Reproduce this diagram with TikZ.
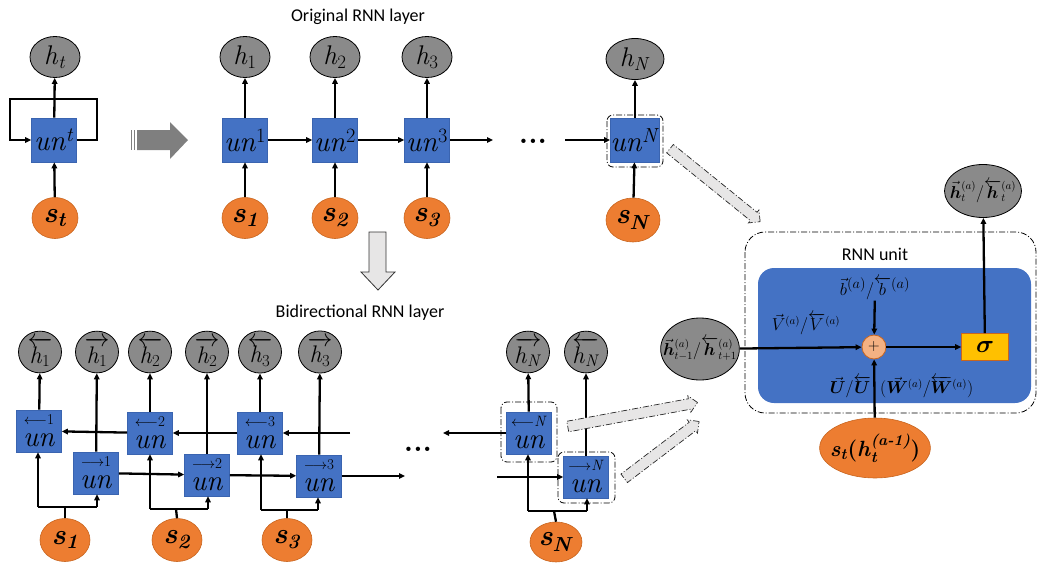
\documentclass[tikz,border=0pt]{standalone}
\usepackage{amsmath,bm}
\usepackage{fontspec}
\newfontfamily\labelsans{Carlito}
\usetikzlibrary{arrows.meta,shapes.geometric,shapes.arrows}

\definecolor{unitblue}{HTML}{4472C4}
\definecolor{unitedge}{HTML}{3A64B0}
\definecolor{inorange}{HTML}{ED7D31}
\definecolor{inedge}{HTML}{C8651F}
\definecolor{outgray}{HTML}{8A8A8A}
\definecolor{sumpink}{HTML}{F4B183}
\definecolor{sigyellow}{HTML}{FFC000}
\definecolor{paleg}{HTML}{E7E6E6}
\definecolor{bigarrow}{HTML}{7F7F7F}

\newcommand\unfont{\fontsize{29}{30}\selectfont}
\newcommand\hfont{\fontsize{27}{28}\selectfont}
\newcommand\bhfont{\fontsize{24}{25}\selectfont}
\newcommand\sfont{\fontsize{29}{30}\selectfont}
\newcommand\tagfont{\fontsize{15}{15}\selectfont}
\newcommand\titlefont{\labelsans\fontsize{18}{20}\selectfont}
\newcommand\sv[1]{\textbf{\textit{s}}\textsubscript{\textbf{\textit{#1}}}}
\newcommand\lefttag[1]{{\tagfont$\longleftarrow$#1}\\[-8pt]\textit{un}}
\newcommand\righttag[1]{{\tagfont$\longrightarrow$#1}\\[-8pt]\textit{un}}

\tikzset{
  ubox/.style={draw=unitedge, fill=unitblue, line width=0.6pt, minimum width=45pt,
    minimum height=44pt, inner sep=0pt, font=\unfont},
  bbox/.style={ubox, minimum width=45pt, minimum height=42pt, align=center},
  outnode/.style={ellipse, draw=black, fill=outgray, line width=0.8pt,
    minimum width=50pt, minimum height=41pt, inner sep=0pt, font=\hfont},
  boutnode/.style={outnode, minimum width=43pt, minimum height=40pt, font=\bhfont},
  innode/.style={ellipse, draw=inedge, fill=inorange, line width=0.6pt,
    minimum width=46pt, minimum height=41pt, inner sep=0pt, font=\sfont},
  conn/.style={line width=2.3pt, -{Triangle[length=6pt,width=5.5pt]}},
  wire/.style={line width=2.3pt},
  dashframe/.style={draw=black, line width=0.8pt, rounded corners=6pt,
    dash pattern=on 6pt off 2pt on 1pt off 2pt},
  hollowarrow/.style={single arrow, draw=black!85, fill=paleg, line width=0.7pt,
    dash pattern=on 6pt off 2pt on 1pt off 2pt, inner sep=5pt,
    single arrow head extend=3pt, single arrow tip angle=90, minimum width=0pt},
  dots/.style={font=\bfseries\fontsize{30}{30}\selectfont, inner sep=0pt},
  mathlab/.style={inner sep=0pt, font=\fontsize{16}{16}\selectfont},
}

\begin{document}
\begin{tikzpicture}[x=1pt, y=-1pt]
\useasboundingbox (0,0) rectangle (1037,565);

% ---------- folded recurrent unit ----------
\node[outnode] (ht) at (55,57) {\textit{h}\textsubscript{\textit{t}}};
\node[ubox] (ut) at (54,140) {\textit{un}\textsuperscript{\textit{t}}};
\node[innode] (st) at (55,218) {\sv{t}};
\draw[conn] (st) -- (ut);
\draw[conn] (ut) -- (ht);
\coordinate (lpA) at (97,140);
\coordinate (lpB) at (97,99);
\coordinate (lpC) at (10,99);
\coordinate (lpD) at (10,140);
\draw[conn] (ut.east) -- (lpA) -- (lpB) -- (lpC) -- (lpD) -- (ut.west);

% unfolding arrow
\fill[bigarrow] (137,130) -- (170,130) -- (170,122) -- (188,140) -- (170,159)
  -- (170,150) -- (137,150) -- cycle;
\fill[bigarrow] (130.5,130) rectangle (132,150);
\fill[bigarrow] (133.5,130) rectangle (135,150);

% ---------- original RNN layer ----------
\node[font=\titlefont] (ttl1) at (358,17) {Original RNN layer};
\foreach \i/\x in {1/245,2/335,3/427}{
  \node[outnode] (h\i) at (\x,57) {\textit{h}\textsubscript{\i}};
  \node[ubox] (u\i) at (\x,140) {\textit{un}\textsuperscript{\i}};
  \node[innode] (s\i) at (\x,218) {\sv{\i}};
  \draw[conn] (s\i) -- (u\i);
  \draw[conn] (u\i) -- (h\i);
}
\draw[conn] (u1) -- (u2);
\draw[conn] (u2) -- (u3);
\coordinate (u3out) at (493,140);
\draw[conn] (u3) -- (u3out);
\node[dots] (dtop) at (533,141) {...};
\coordinate (uNin) at (565,140);

\node[outnode, minimum width=58pt] (hN) at (635,59) {\textit{h}\textsubscript{\textit{N}}};
\node[ubox] (uN) at (635,140) {\textit{un}\textsuperscript{\textit{N}}};
\node[innode, minimum width=54pt, minimum height=44pt] (sN) at (633,220) {\sv{N}};
\draw[conn] (uNin) -- (uN);
\draw[conn] (sN) -- (uN);
\draw[conn] (uN) -- (hN);
\draw[dashframe] (607,115) rectangle (663,167);

% expand arrow towards the unit detail
\node[hollowarrow, minimum height=116pt, rotate=-39] (zoomA) at (713,183.5) {};

% bidirectional transition arrow
\draw[draw=black!80, fill=paleg, line width=0.8pt] (369,232) -- (386,232) -- (386,272)
  -- (395,272) -- (378,290) -- (361,272) -- (369,272) -- cycle;

% ---------- bidirectional RNN layer ----------
\node[font=\titlefont] (ttl2) at (360,313) {Bidirectional RNN layer};

\node[boutnode] (hb1) at (40,352) {$\overleftarrow{\mbox{\textit{h}\textsubscript{1}}}$};
\node[boutnode] (hf1) at (97,352) {$\overrightarrow{\mbox{\textit{h}\textsubscript{1}}}$};
\node[boutnode] (hb2) at (150,352) {$\overleftarrow{\mbox{\textit{h}\textsubscript{2}}}$};
\node[boutnode] (hf2) at (207,352) {$\overrightarrow{\mbox{\textit{h}\textsubscript{2}}}$};
\node[boutnode] (hb3) at (260,352) {$\overleftarrow{\mbox{\textit{h}\textsubscript{3}}}$};
\node[boutnode] (hf3) at (320,352) {$\overrightarrow{\mbox{\textit{h}\textsubscript{3}}}$};

\node[bbox] (bb1) at (39,431) {\lefttag{1}};
\node[bbox] (bf1) at (96,473) {\righttag{1}};
\node[bbox] (bb2) at (150,433) {\lefttag{2}};
\node[bbox] (bf2) at (207,475) {\righttag{2}};
\node[bbox] (bb3) at (260,433) {\lefttag{3}};
\node[bbox] (bf3) at (319,476) {\righttag{3}};

\node[innode, minimum width=50pt, minimum height=43pt] (sb1) at (65,540) {\sv{1}};
\node[innode, minimum width=50pt, minimum height=43pt] (sb2) at (177,540) {\sv{2}};
\node[innode, minimum width=50pt, minimum height=43pt] (sb3) at (287,540) {\sv{3}};

% outputs
\foreach \n in {1,2,3}{
  \draw[conn] (bb\n) -- (hb\n);
  \draw[conn] (bf\n) -- (hf\n);
}
% backward chain
\coordinate (bin) at (350,433);
\draw[conn] (bin) -- (bb3);
\draw[conn] (bb3) -- (bb2);
\draw[conn] (bb2) -- (bb1);
% forward chain
\draw[conn] (bf1) -- (bf2);
\draw[conn] (bf2) -- (bf3);
\coordinate (fout) at (405,476);
\draw[conn] (bf3) -- (fout);

% input fan-out
\foreach \n/\xs/\xb/\xf/\yj in {1/65/38/97/507, 2/176/150/208/509, 3/287/261/318/510}{
  \coordinate (j\n) at (\xs,\yj);
  \coordinate (jb\n) at (\xb,\yj);
  \coordinate (jf\n) at (\xf,\yj);
  \draw[wire] (sb\n.north) -- (j\n);
  \draw[wire] (jb\n) -- (jf\n);
  \draw[conn] (jb\n) -- (jb\n |- bb\n.south);
  \draw[conn] (jf\n) -- (jf\n |- bf\n.south);
}

\node[dots] (dbot) at (418,449) {...};

\node[boutnode] (hfN) at (528,352) {$\overrightarrow{\mbox{\textit{h}\textsubscript{\textit{N}}}}$};
\node[boutnode] (hbN) at (586,352) {$\overleftarrow{\mbox{\textit{h}\textsubscript{\textit{N}}}}$};
\node[bbox] (bbN) at (529,433) {\lefttag{\textit{N}}};
\node[bbox] (bfN) at (586,477) {\righttag{\textit{N}}};
\node[innode, minimum width=52pt, minimum height=40pt] (sbN) at (556,542) {\sv{N}};
\draw[dashframe] (501,402) rectangle (557,462);
\draw[dashframe] (558,452) rectangle (615,503);

\coordinate (bNout) at (443,433);
\draw[conn] (bbN) -- (bNout);
\coordinate (fNin) at (497,477);
\draw[conn] (fNin) -- (bfN);
\draw[conn] (bbN) -- (hfN);
\draw[conn] (bfN) -- (hbN);
\coordinate (jN) at (554,511);
\coordinate (jbN) at (528,511);
\coordinate (jfN) at (587,511);
\draw[wire] (sbN.north) -- (jN);
\draw[wire] (jbN) -- (jfN);
\draw[conn] (jbN) -- (jbN |- bbN.south);
\draw[conn] (jfN) -- (jfN |- bfN.south);

\node[hollowarrow, minimum height=132pt, rotate=10.5] (zoomB) at (630,415) {};
\node[hollowarrow, minimum height=94pt, rotate=37.2] (zoomC) at (659.5,451.5) {};

% ---------- RNN unit detail ----------
\draw[dashframe, rounded corners=20pt] (745,232) rectangle (1036,413);
\fill[unitblue, rounded corners=16pt] (758,268) rectangle (1031,403);
\node[font=\titlefont] (ttl3) at (875,254) {RNN unit};

\node[circle, draw=inedge, fill=sumpink, line width=0.8pt, minimum size=24pt,
  inner sep=0pt, font=\fontsize{16}{16}\selectfont] (sum) at (874,347) {+};
\node[draw=inedge, fill=sigyellow, line width=0.6pt, minimum width=47pt,
  minimum height=27pt, inner sep=0pt, font=\fontsize{26}{26}\selectfont] (sig) at (985,347) {$\bm\sigma$};

\node[mathlab, font=\fontsize{19}{19}\selectfont, inner sep=1pt] (blab) at (875,288)
  {$\vec{b}^{(a)}/\overleftarrow{b}^{(a)}$};
\node[mathlab] (vlab) at (806,324)
  {$\vec{V}^{(a)}/\overleftarrow{V}^{(a)}$};
\node[mathlab, anchor=east] (ulabA) at (871,387) {$\vec{\bm U}/\overleftarrow{\bm U}$};
\node[mathlab, anchor=west] (ulabB) at (880,387)
  {$(\vec{\bm W}^{(a)}/\overleftarrow{\bm W}^{(a)})$};

\node[ellipse, draw=black, fill=outgray, line width=0.8pt, minimum width=77pt,
  minimum height=62pt, inner xsep=-9pt, inner ysep=0pt, font=\fontsize{16}{16}\selectfont] (hin) at (700,349)
  {$\vec{\bm h}^{(a)}_{t-1}/\overleftarrow{\bm h}^{(a)}_{t+1}$};
\node[ellipse, draw=black, fill=outgray, line width=0.8pt, minimum width=77pt,
  minimum height=53pt, inner xsep=-9pt, inner ysep=0pt, font=\fontsize{16}{16}\selectfont] (hout) at (983,191)
  {$\vec{\bm h}^{(a)}_{t}/\overleftarrow{\bm h}^{(a)}_{t}$};
\node[ellipse, draw=inedge, fill=inorange, line width=0.6pt, minimum width=84pt,
  minimum height=60pt, inner xsep=-6pt, inner ysep=0pt, font=\fontsize{22}{22}\selectfont] (sin) at (875,448)
  {\textbf{\textit{s}}\textsubscript{\textbf{\textit{t}}}\textbf{(\textit{h}$^{\text{\textbf{\textit{(a-1)}}}}_{\text{\textbf{\textit{t}}}}$)}};

\draw[conn] (blab) -- (sum);
\draw[conn] (hin) -- (sum);
\draw[conn] (sin) -- (sum);
\draw[conn] (sum) -- (sig);
\draw[conn] (sig) -- (hout);
\end{tikzpicture}
\end{document}
